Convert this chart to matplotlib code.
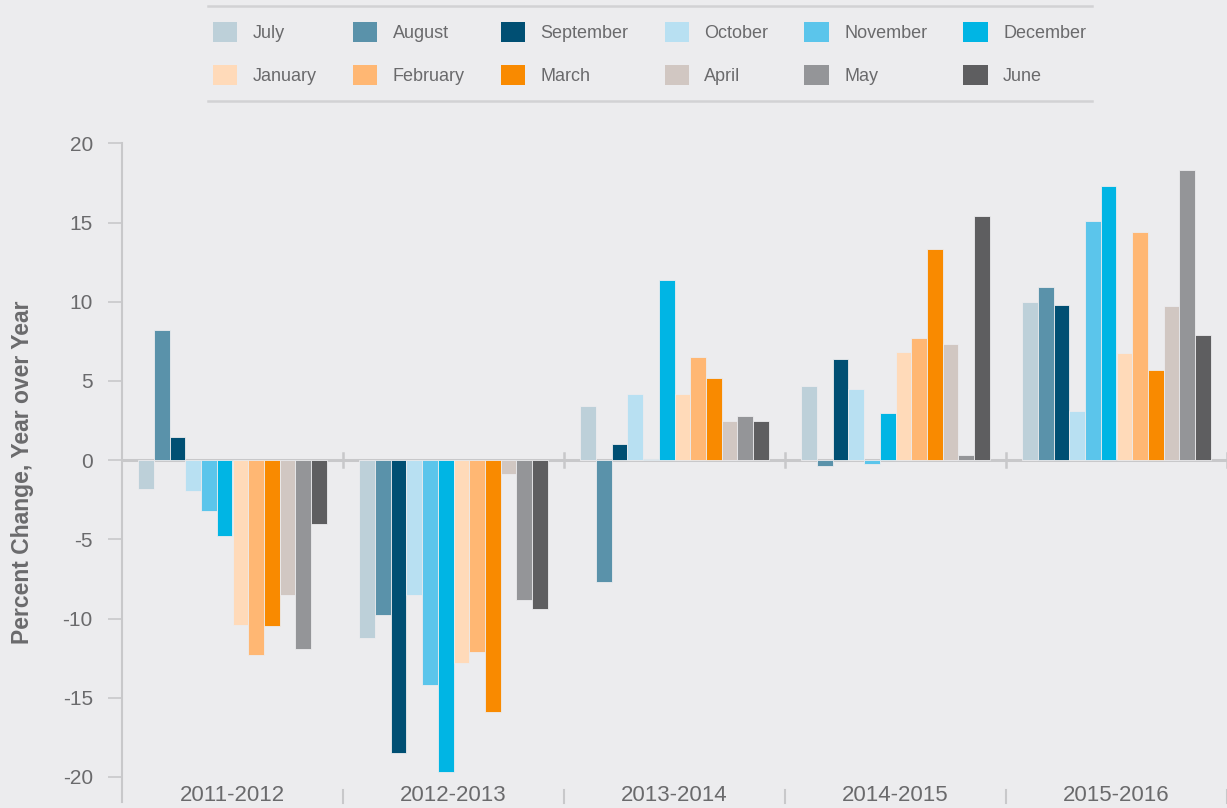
import matplotlib
matplotlib.use("Agg")
import matplotlib.pyplot as plt
import matplotlib.transforms as mtransforms
from matplotlib.patches import Patch
import numpy as np

periods = ["2011-2012", "2012-2013", "2013-2014", "2014-2015", "2015-2016"]
months = ["July", "August", "September", "October", "November", "December",
          "January", "February", "March", "April", "May", "June"]
colors = ["#BDD0D9", "#5A92AA", "#004F73", "#B8E0F2", "#5BC5EB", "#00B5E4",
          "#FFDAB9", "#FFB773", "#F98A00", "#D1C7C2", "#949598", "#5E5E60"]

july = [-1.8, -11.2, 3.4, 4.7, 10.0]
august = [8.2, -9.8, -7.7, -0.4, 10.9]
september = [1.45, -18.5, 1.0, 6.4, 9.8]
october = [-1.95, -8.5, 4.2, 4.5, 3.1]
november = [-3.2, -14.2, 0.1, -0.25, 15.1]
december = [-4.8, -19.7, 11.4, 3.0, 17.3]
january = [-10.4, -12.8, 4.2, 6.8, 6.75]
february = [-12.3, -12.1, 6.5, 7.7, 14.4]
march = [-10.5, -15.9, 5.2, 13.3, 5.7]
april = [-8.5, -0.9, 2.45, 7.3, 9.7]
may = [-11.9, -8.8, 2.8, 0.3, 18.3]
june = [-4.0, -9.4, 2.45, 15.4, 7.9]
series = [july, august, september, october, november, december,
          january, february, march, april, may, june]

y_ticks = [-20, -15, -10, -5, 0, 5, 10, 15, 20]

BG = "#ECECEE"
GRID = "#C8C8CA"
TXT = "#6A6A6C"

W, H = 1227, 808
fig = plt.figure(figsize=(W / 100, H / 100), dpi=100, facecolor=BG)
ax_left = 122 / W
ax_bottom = 1 - 802 / H
ax_top = 1 - 143.3 / H
ax = fig.add_axes([ax_left, ax_bottom, 1 - ax_left, ax_top - ax_bottom])
ax.set_facecolor(BG)

n = len(months)
step = 0.0709
x0 = np.arange(len(periods)) + 0.5
handles = []
for j, (m, c, vals) in enumerate(zip(months, colors, series)):
    xs = x0 + (j - (n - 1) / 2) * step
    ax.bar(xs, vals, width=step, color=c, edgecolor=BG, linewidth=0.6, zorder=3)
    handles.append(Patch(facecolor=c, edgecolor="none", label=m))

ax.set_xlim(0, len(periods))
ax.set_ylim(-21.58, 20)

# zero line
ax.axhline(0, color=GRID, lw=2.2, zorder=2)
trans = mtransforms.blended_transform_factory(ax.transData, ax.transAxes)
for b in range(1, len(periods) + 1):
    ax.plot([b, b], [-0.45, 0.45], color=GRID, lw=1.8, zorder=2, clip_on=False)
    ax.plot([b, b], [-0.002, 0.018], color=GRID, lw=1.5, transform=trans, clip_on=False)

for i, p in enumerate(periods):
    ax.text(i + 0.5, 0.0106, p, transform=trans, ha="center", va="center",
            fontsize=16, color=TXT, family="Liberation Sans")

for s in ["top", "right", "bottom"]:
    ax.spines[s].set_visible(False)
ax.spines["left"].set_color(GRID)
ax.spines["left"].set_linewidth(1.5)
ax.set_xticks([])
ax.set_yticks(y_ticks)
ax.set_yticklabels([str(t) for t in y_ticks])
ax.tick_params(axis="y", length=10, width=1.2, color=GRID, pad=11,
               labelsize=15, labelcolor=TXT)
for lab in ax.get_yticklabels():
    lab.set_family("Liberation Sans")

ax.set_ylabel("Percent Change, Year over Year", fontsize=16.5, fontweight="bold",
              color=TXT, family="Liberation Sans", labelpad=0)
ax.yaxis.set_label_coords((-122 + 34) / (W - 122), 0.5)

# legend: reorder so rows read July..December / January..June
order = []
for k in range(6):
    order += [k, k + 6]
leg = fig.legend([handles[k] for k in order], [months[k] for k in order],
                 ncol=6, loc="center left", bbox_to_anchor=(213 / W, 1 - 53.5 / H),
                 frameon=False, fontsize=13, handlelength=1.35, handleheight=1.35,
                 handletextpad=0.85, columnspacing=2.0, labelspacing=1.25,
                 borderpad=0, borderaxespad=0)
for t in leg.get_texts():
    t.set_color(TXT)
    t.set_family("Liberation Sans")

for yy in [6, 101]:
    fig.add_artist(plt.Line2D([208 / W, 1092 / W], [1 - yy / H, 1 - yy / H],
                              color="#D2D2D4", lw=1.8, transform=fig.transFigure))

fig.savefig("out.png", dpi=100, facecolor=BG)
